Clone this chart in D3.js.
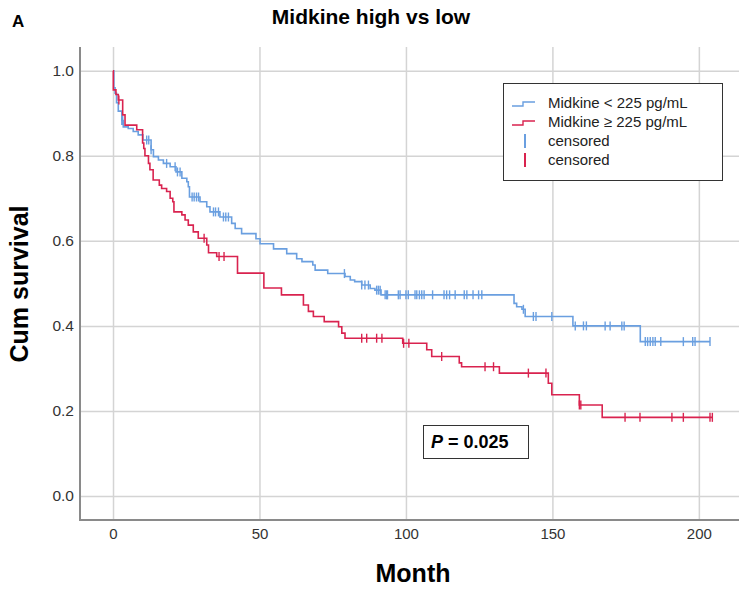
<!DOCTYPE html>
<html>
<head>
<meta charset="utf-8">
<script src="https://cdn.jsdelivr.net/npm/d3@7"></script>
<style>
  body { margin: 0; background: #fff; }
  svg { display: block; font-family: Arial, "Liberation Sans", sans-serif; }
</style>
</head>
<body>
<svg id="chart"></svg>
<script>
// Kaplan-Meier steps: [month, cum survival after the step]
const lowSteps = [
  [0, 1.0], [0.3, 0.96], [0.7, 0.947], [1.2, 0.925], [1.8, 0.905], [3.0, 0.883],
  [3.5, 0.868], [5.2, 0.864], [6.9, 0.857], [8.6, 0.849], [10.2, 0.837], [13.0, 0.814],
  [13.8, 0.798], [15.5, 0.790], [17.2, 0.782], [19.5, 0.774], [21.5, 0.762], [23.5, 0.747],
  [25.2, 0.739], [25.7, 0.727], [26.1, 0.703], [29.7, 0.692], [32.0, 0.680], [33.1, 0.668],
  [36.5, 0.656], [40.5, 0.641], [41.7, 0.629], [43.9, 0.617], [48.8, 0.605], [50.2, 0.593],
  [54.8, 0.581], [59.3, 0.570], [62.7, 0.558], [64.5, 0.551], [68.2, 0.543], [69.0, 0.531],
  [73.3, 0.523], [79.2, 0.516], [81.0, 0.508], [82.5, 0.504], [84.9, 0.496], [87.8, 0.488],
  [89.4, 0.484], [91.5, 0.473], [136.9, 0.453], [137.8, 0.445], [139.6, 0.439], [140.7, 0.422],
  [157.0, 0.400], [180.0, 0.363]
];
const lowEnd = 203.8;
const lowCensored = [
  3.0, 3.3, 11.5, 12.2, 13.0, 18.3, 21.2, 22.0, 22.9, 27.0, 27.7, 28.5, 29.2, 34.3, 35.0,
  36.0, 37.7, 38.5, 39.4, 79.0, 84.9, 86.0, 87.2, 90.0, 90.6, 91.2, 92.9, 93.4, 93.7, 97.4,
  98.0, 100.0, 100.8, 103.1, 103.7, 104.6, 105.4, 106.2, 109.1, 113.0, 113.9, 114.9, 116.8,
  119.9, 120.8, 122.9, 124.8, 125.9, 140.1, 143.5, 144.4, 149.8, 157.8, 160.6, 161.6, 168.0,
  169.7, 173.7, 174.5, 181.7, 182.5, 183.4, 184.3, 185.1, 187.0, 194.7, 197.9, 198.7, 203.8
];

const highSteps = [
  [0, 1.0], [0.1, 0.955], [1.0, 0.944], [1.8, 0.931], [3.3, 0.896], [4.1, 0.872],
  [8.1, 0.861], [10.1, 0.83], [10.5, 0.817], [10.9, 0.80], [12.1, 0.782], [12.6, 0.767],
  [13.7, 0.743], [15.8, 0.731], [16.6, 0.723], [18.3, 0.716], [19.5, 0.700], [20.4, 0.692],
  [20.8, 0.668], [23.5, 0.661], [24.6, 0.649], [25.7, 0.637], [27.4, 0.621], [29.1, 0.606],
  [32.0, 0.590], [32.6, 0.572], [35.4, 0.563], [42.5, 0.524], [51.5, 0.489], [57.5, 0.473],
  [65.0, 0.449], [66.7, 0.434], [68.4, 0.422], [72.1, 0.410], [77.0, 0.398], [78.1, 0.383],
  [79.2, 0.371], [98.9, 0.359], [107.1, 0.344], [108.8, 0.328], [118.2, 0.313], [119.0, 0.304],
  [131.9, 0.289], [148.6, 0.265], [149.8, 0.238], [159.2, 0.214], [167.0, 0.185]
];
const highEnd = 204.6;
const highCensored = [
  2.0, 31.1, 36.2, 37.9, 84.9, 86.6, 90.0, 91.8, 99.2, 101.0, 112.2, 127.0, 129.9,
  141.8, 147.8, 159.2, 159.7, 174.8, 179.9, 190.8, 194.7, 203.8, 204.6
];

const xTicks = [0, 50, 100, 150, 200];
const yTicks = [0, 0.2, 0.4, 0.6, 0.8, 1.0];

const width = 739;
const height = 590;
const blue = '#6a9fe0';
const red = '#d9234f';

const svg = d3.select('#chart')
  .attr('width', width)
  .attr('height', height);

// plot frame: left 80, right 739, top 47, bottom 520
const x = d3.scaleLinear().domain([-11.27, 213.7]).range([80, 739]);
const y = d3.scaleLinear().domain([-0.0564, 1.0557]).range([520, 47]);

// y grid + labels
const yAxis = svg.append('g')
  .attr('transform', 'translate(80,0)')
  .call(d3.axisLeft(y).tickValues(yTicks).tickFormat(d3.format('.1f'))
    .tickSize(-(739 - 80)).tickSizeOuter(0).tickPadding(6));
yAxis.selectAll('.tick line').attr('stroke', '#d4d4d4').attr('stroke-width', 1.5);
yAxis.selectAll('.tick text').attr('fill', '#333').style('font-size', '15.5px');
yAxis.select('.domain').remove();

// x grid + labels
const xAxis = svg.append('g')
  .attr('transform', 'translate(0,520)')
  .call(d3.axisBottom(x).tickValues(xTicks)
    .tickSize(-(520 - 47)).tickSizeOuter(0).tickPadding(8));
xAxis.selectAll('.tick line').attr('stroke', '#d4d4d4').attr('stroke-width', 1.5);
xAxis.selectAll('.tick text').attr('fill', '#333').style('font-size', '15px');
xAxis.select('.domain').remove();

// axis lines
svg.append('line').attr('x1', 80).attr('x2', 80).attr('y1', 47).attr('y2', 521)
  .attr('stroke', '#8a8a8a').attr('stroke-width', 2);
svg.append('line').attr('x1', 79).attr('x2', 739).attr('y1', 520).attr('y2', 520)
  .attr('stroke', '#8a8a8a').attr('stroke-width', 2);

// survival value at time t
const survivalAt = (steps, t) => {
  let s = steps[0][1];
  for (const [ts, v] of steps) { if (ts <= t) s = v; }
  return s;
};

const line = d3.line()
  .x(d => x(d[0]))
  .y(d => y(d[1]))
  .curve(d3.curveStepAfter);

function drawCurve(steps, end, censored, color) {
  const pts = steps.concat([[end, steps[steps.length - 1][1]]]);
  svg.append('path')
    .datum(pts)
    .attr('fill', 'none')
    .attr('stroke', color)
    .attr('stroke-width', 1.6)
    .attr('d', line);
  svg.append('g')
    .selectAll('line')
    .data(censored)
    .join('line')
    .attr('x1', d => x(d))
    .attr('x2', d => x(d))
    .attr('y1', d => y(survivalAt(steps, d)) - 4.5)
    .attr('y2', d => y(survivalAt(steps, d)) + 4.5)
    .attr('stroke', color)
    .attr('stroke-width', 1.4);
}

drawCurve(lowSteps, lowEnd, lowCensored, blue);
drawCurve(highSteps, highEnd, highCensored, red);

// titles
svg.append('text').attr('x', 12).attr('y', 27)
  .attr('font-weight', 'bold').style('font-size', '17px').text('A');
svg.append('text').attr('x', 371).attr('y', 24).attr('text-anchor', 'middle')
  .attr('font-weight', 'bold').style('font-size', '21px').text('Midkine high vs low');
svg.append('text').attr('x', 413).attr('y', 582).attr('text-anchor', 'middle')
  .attr('font-weight', 'bold').style('font-size', '25px').text('Month');
svg.append('text')
  .attr('transform', 'translate(28,284) rotate(-90)')
  .attr('text-anchor', 'middle')
  .attr('font-weight', 'bold').style('font-size', '25px').text('Cum survival');

// legend
const legend = svg.append('g');
legend.append('rect').attr('x', 503.5).attr('y', 83.5).attr('width', 219).attr('height', 97)
  .attr('fill', '#fff').attr('stroke', '#333').attr('stroke-width', 1);
const legendItems = [
  { label: 'Midkine < 225 pg/mL', color: blue, type: 'step' },
  { label: 'Midkine \u2265 225 pg/mL', color: red, type: 'step' },
  { label: 'censored', color: blue, type: 'tick' },
  { label: 'censored', color: red, type: 'tick' }
];
legendItems.forEach((d, i) => {
  const cy = 103 + i * 19;
  if (d.type === 'step') {
    legend.append('path')
      .attr('d', `M512,${cy + 3} H523 V${cy - 1} H535`)
      .attr('fill', 'none').attr('stroke', d.color).attr('stroke-width', 1.4);
  } else {
    legend.append('line').attr('x1', 525).attr('x2', 525)
      .attr('y1', cy - 7).attr('y2', cy + 7)
      .attr('stroke', d.color).attr('stroke-width', 2);
  }
  legend.append('text').attr('x', 548).attr('y', cy + 5)
    .attr('fill', '#222').style('font-size', '15px').text(d.label);
});

// p-value box
svg.append('rect').attr('x', 423.5).attr('y', 425.5).attr('width', 105).attr('height', 33)
  .attr('fill', '#fff').attr('stroke', '#333').attr('stroke-width', 1);
const ptext = svg.append('text').attr('x', 431).attr('y', 448)
  .attr('font-weight', 'bold').style('font-size', '18px');
ptext.append('tspan').attr('font-style', 'italic').text('P');
ptext.append('tspan').text(' = 0.025');
</script>
</body>
</html>
